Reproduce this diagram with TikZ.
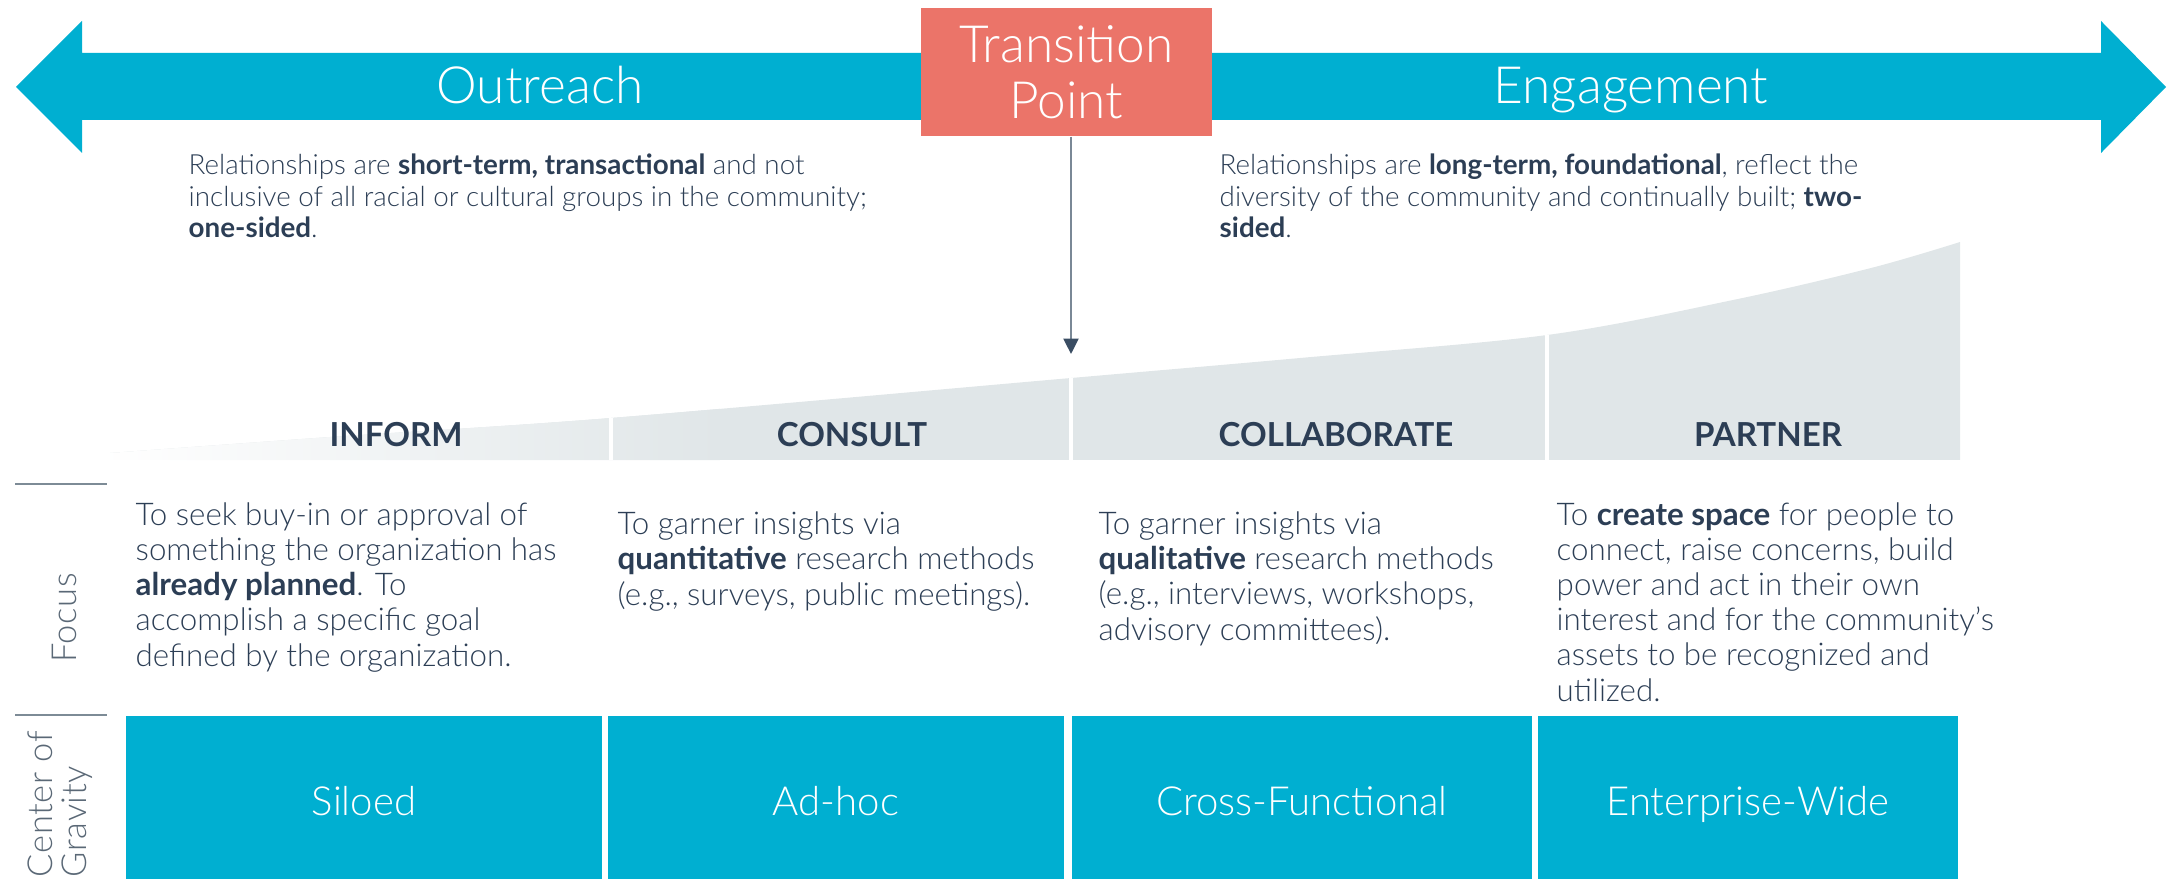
\documentclass[tikz,border=0pt]{standalone}
\usepackage{fontspec}
\IfFontExistsTF{Lato Light}
  {\setmainfont{Lato Light}[BoldFont={Lato Bold}]}
  {\setmainfont{Lato}}
\usetikzlibrary{arrows.meta,calc}

\definecolor{teal}{RGB}{0,175,209}
\definecolor{salmon}{RGB}{235,116,105}
\definecolor{ink}{RGB}{44,62,85}
\definecolor{sidegray}{RGB}{90,104,118}
\definecolor{rulegray}{RGB}{125,139,150}
\definecolor{arrowgray}{RGB}{122,136,150}
\definecolor{arrowhead}{RGB}{58,77,99}
\definecolor{rampgray}{RGB}{224,230,232}

\tikzset{
  band label/.style={font=\fontsize{14.6}{16}\selectfont, text=white, inner sep=0pt},
  para/.style={font=\fontsize{7.9}{8.96}\selectfont, text=ink, inner sep=0pt, align=left},
  header/.style={font=\fontsize{9.4}{11}\selectfont\bfseries, text=ink, inner sep=0pt},
  focus text/.style={font=\fontsize{8.9}{9.96}\selectfont, text=ink, inner sep=0pt, align=left},
  side label/.style={font=\fontsize{9.8}{9.7}\selectfont\addfontfeature{LetterSpace=2},
    text=sidegray, inner sep=0pt, align=left, rotate=90},
  side rule/.style={draw=rulegray, line width=0.6pt},
  gravity box/.style={fill=teal, text=white, inner sep=0pt, minimum height=1.74cm,
    font=\fontsize{11.4}{12}\selectfont, text height=9.2pt, text depth=2pt},
  divider/.style={draw=white, line width=0.9pt},
}

\begin{document}
\begin{tikzpicture}[x=0.01cm, y=-0.01cm]
  \useasboundingbox (0,0) rectangle (2173,879);
  \clip (0,0) rectangle (2173,879);

  % double-headed band: Outreach <-> Engagement
  \fill[teal] (16,87) -- (82,21) -- (82,53) -- (2101,53) -- (2101,21)
    -- (2166,87) -- (2101,153) -- (2101,120) -- (82,120) -- (82,153) -- cycle;
  \node[band label, anchor=base] (outreach) at (540,104) {Outreach};
  \node[band label, anchor=base] (engagement) at (1631,104) {Engagement};

  % transition box
  \node[fill=salmon, text=white, minimum width=2.91cm, minimum height=1.28cm,
    inner sep=0pt, align=center, font=\fontsize{14.6}{15.9}\selectfont]
    (tp) at (1066.5,72) {Transition\\Point};

  % descriptions under the band (anchored at the last baseline)
  \node[para, anchor=base west] (outtext) at (188,238)
    {Relationships are \textbf{short-term, transactional} and not\\
     inclusive of all racial or cultural groups in the community;\\
     \textbf{one-sided}.};
  \node[para, anchor=base west] (engtext) at (1219,238)
    {Relationships are \textbf{long-term, foundational}, reflect the\\
     diversity of the community and continually built; \textbf{two-}\\
     \textbf{sided}.};

  % rising ramp behind the stage headers, fading out to the left
  \begin{scope}
    \clip plot[smooth, tension=0.55] coordinates {(110,453) (330,437) (611,418)
      (1071,378) (1300,358) (1547,335) (1733,300) (1871,268) (1960,242)}
      -- (1960,460) -- (110,460) -- cycle;
    \fill[rampgray] (100,230) rectangle (1970,460);
    \shade[left color=white, right color=rampgray] (100,230) rectangle (720,460);
    \draw[divider] (611,230) -- (611,460);
    \draw[divider] (1071,230) -- (1071,460);
    \draw[divider] (1547,230) -- (1547,460);
  \end{scope}

  % arrow from the transition point down to the ramp
  \coordinate (tip) at (1071,354);
  \draw[draw=arrowgray, line width=0.57pt,
    -{Triangle[width=4.3pt,length=4.4pt,color=arrowhead]}] (tp.south -| tip) -- (tip);

  % stage headers
  \node[header, anchor=base] (inform) at (396,446) {INFORM};
  \node[header, anchor=base] (consult) at (852,446) {CONSULT};
  \node[header, anchor=base] (collab) at (1336,446) {COLLABORATE};
  \node[header, anchor=base] (partner) at (1768,446) {PARTNER};

  % row labels and rules
  \coordinate (r1a) at (15,484);  \coordinate (r1b) at (107,484);
  \coordinate (r2a) at (15,715);  \coordinate (r2b) at (107,715);
  \draw[side rule] (r1a) -- (r1b);
  \draw[side rule] (r2a) -- (r2b);
  \node[side label, anchor=base] (focus) at (77,618) {Focus};
  \node[side label, anchor=base west] (gravity) at (87,878) {Center of\\Gravity};

  % focus descriptions (anchored at the last baseline)
  \node[focus text, anchor=base west] (f1) at (135,666)
    {To seek buy-in or approval of\\
     something the organization has\\
     \textbf{already planned}. To\\
     accomplish a specific goal\\
     defined by the organization.};
  \node[focus text, anchor=base west] (f2) at (617,605)
    {To garner insights via\\
     \textbf{quantitative} research methods\\
     (e.g., surveys, public meetings).};
  \node[focus text, anchor=base west] (f3) at (1098,640)
    {To garner insights via\\
     \textbf{qualitative} research methods\\
     (e.g., interviews, workshops,\\
     advisory committees).};
  \node[focus text, anchor=base west] (f4) at (1556,701)
    {To \textbf{create space} for people to\\
     connect, raise concerns, build\\
     power and act in their own\\
     interest and for the community’s\\
     assets to be recognized and\\
     utilized.};

  % center of gravity boxes
  \node[gravity box, minimum width=4.76cm] (siloed) at (364,803) {Siloed};
  \node[gravity box, minimum width=4.56cm] (adhoc) at (836,803) {Ad-hoc};
  \node[gravity box, minimum width=4.60cm] (cross) at (1302,803) {Cross-Functional};
  \node[gravity box, minimum width=4.20cm] (enterprise) at (1748,803) {Enterprise-Wide};
\end{tikzpicture}
\end{document}
